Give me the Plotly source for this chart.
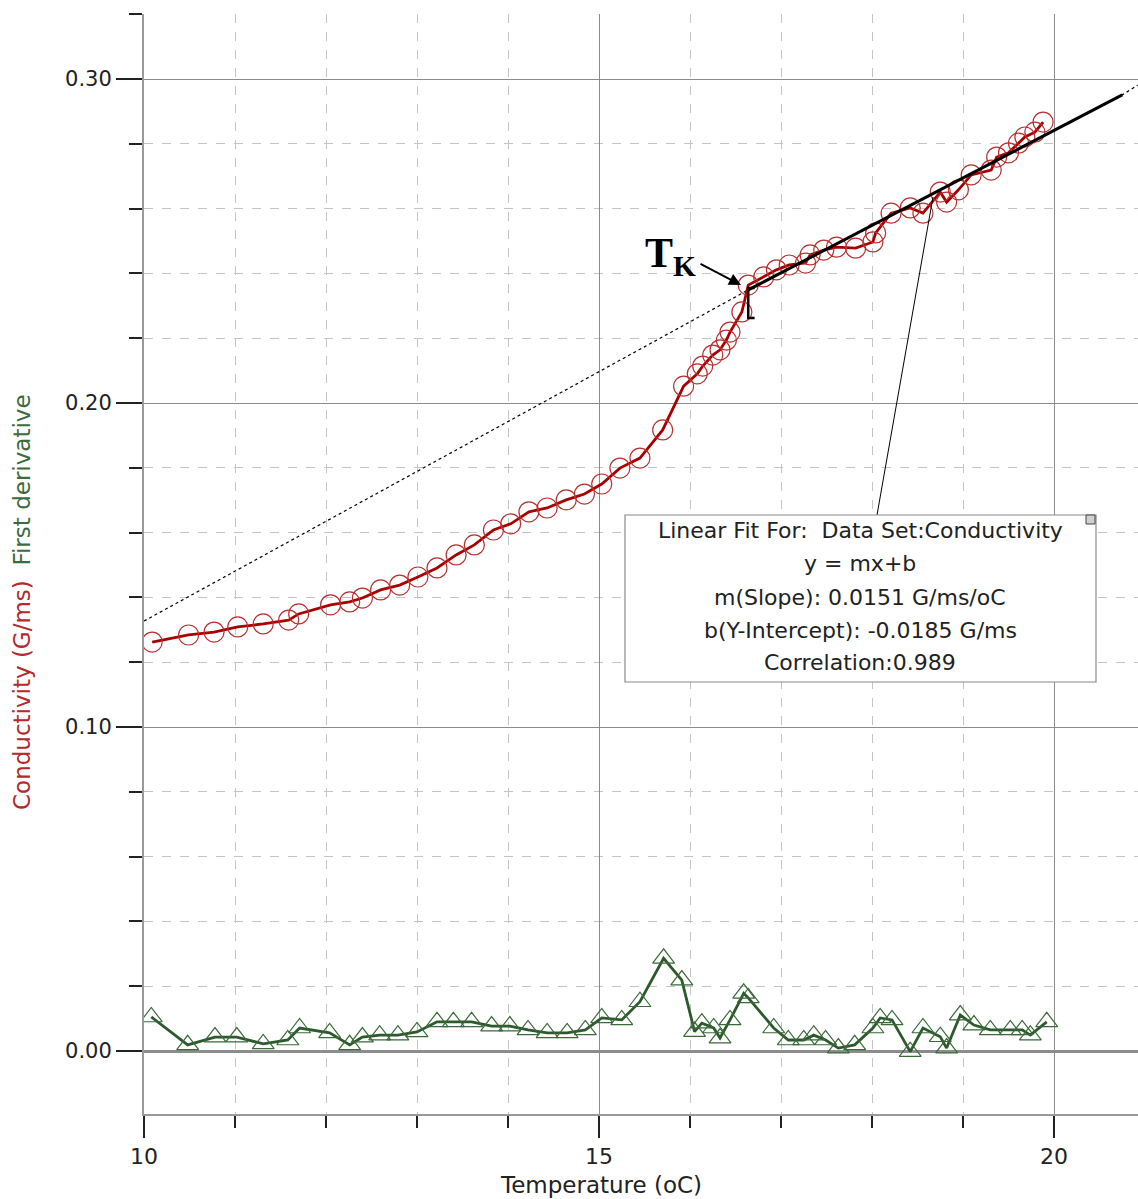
import plotly.graph_objects as go

# ---------------- data ----------------
cond_x = [10.09, 10.49, 10.77, 11.03, 11.31, 11.59, 11.70, 12.05, 12.26, 12.40, 12.60, 12.81,
          13.01, 13.22, 13.43, 13.63, 13.84, 14.03, 14.23, 14.43, 14.64, 14.84, 15.03, 15.23,
          15.45, 15.70, 15.93, 16.08, 16.14, 16.25, 16.33, 16.40, 16.44, 16.57, 16.64, 16.81,
          16.95, 17.09, 17.27, 17.32, 17.47, 17.61, 17.82, 18.01, 18.04, 18.21, 18.42, 18.56,
          18.75, 18.82, 18.95, 19.09, 19.31, 19.37, 19.50, 19.61, 19.68, 19.79, 19.88]
cond_y = [0.1262, 0.1284, 0.1293, 0.1309, 0.1318, 0.1330, 0.1349, 0.1377, 0.1386, 0.1398, 0.1423, 0.1438,
          0.1463, 0.1491, 0.1531, 0.1562, 0.1608, 0.1627, 0.1664, 0.1676, 0.1701, 0.1719, 0.1750, 0.1799,
          0.1830, 0.1917, 0.2052, 0.2090, 0.2114, 0.2148, 0.2164, 0.2194, 0.2219, 0.2281, 0.2364, 0.2389,
          0.2411, 0.2426, 0.2432, 0.2457, 0.2472, 0.2481, 0.2478, 0.2497, 0.2525, 0.2586, 0.2602, 0.2586,
          0.2651, 0.2620, 0.2658, 0.2704, 0.2719, 0.2759, 0.2772, 0.2802, 0.2821, 0.2836, 0.2867]

deriv_x = [10.08, 10.48, 10.78, 11.02, 11.31, 11.58, 11.71, 12.04, 12.26, 12.40, 12.59, 12.79,
           13.00, 13.22, 13.40, 13.60, 13.82, 14.02, 14.22, 14.43, 14.65, 14.85, 15.03, 15.25,
           15.45, 15.71, 15.91, 16.05, 16.13, 16.26, 16.33, 16.44, 16.59, 16.64, 16.92, 17.08,
           17.25, 17.36, 17.49, 17.63, 17.81, 18.01, 18.09, 18.22, 18.42, 18.56, 18.75, 18.82,
           18.97, 19.12, 19.30, 19.52, 19.65, 19.74, 19.92]
deriv_y = [0.0105, 0.0019, 0.0043, 0.0043, 0.0022, 0.0034, 0.0071, 0.0056, 0.0019, 0.0043, 0.0049, 0.0049,
           0.0059, 0.0090, 0.0090, 0.0090, 0.0077, 0.0077, 0.0065, 0.0056, 0.0056, 0.0065, 0.0102, 0.0096,
           0.0152, 0.0286, 0.0219, 0.0060, 0.0086, 0.0071, 0.0040, 0.0096, 0.0178, 0.0164, 0.0071, 0.0034,
           0.0034, 0.0049, 0.0034, 0.0009, 0.0019, 0.0071, 0.0102, 0.0096, -0.0002, 0.0071, 0.0044, 0.0009,
           0.0111, 0.0080, 0.0065, 0.0065, 0.0065, 0.0049, 0.0090]

# linear fit (as drawn): dotted extension and solid fitted range
fit_dot_x = [10.0, 16.64, 20.75, 20.92]
fit_dot_y = [0.1327, 0.2349, 0.2951, 0.2981]
fit_x = [16.64, 20.75]
fit_y = [0.2349, 0.2951]
bracket_x = [16.71, 16.64, 16.64, 16.71]
bracket_y = [0.2355, 0.2355, 0.2262, 0.2262]

fit_lines = ["Linear Fit For:  Data Set:Conductivity",
             "y = mx+b",
             "m(Slope): 0.0151 G/ms/oC",
             "b(Y-Intercept): -0.0185 G/ms",
             "Correlation:0.989"]

x_ticks = [10, 15, 20]

# --------------- layout helpers ---------------
X0, PXX = 144, 91.0
Y0, PXY = 1051, 3240.0
def px_x(p):
    return 10 + (p - X0) / PXX
def px_y(p):
    return (Y0 - p) / PXY

RED = "#a80000"
RED_M = "#b83030"
GREEN = "#2d5a2d"
GREEN_M = "#3a6a3a"
FONT = "DejaVu Sans, Arial, sans-serif"

fig = go.Figure()

fig.add_trace(go.Scatter(x=fit_dot_x, y=fit_dot_y, mode="lines",
                         line=dict(color="black", width=1.2, dash="dot"),
                         hoverinfo="skip", showlegend=False))
fig.add_trace(go.Scatter(x=cond_x, y=cond_y, mode="lines+markers",
                         line=dict(color=RED, width=2.8),
                         marker=dict(symbol="circle-open", size=20, color=RED_M,
                                     line=dict(width=1.2, color=RED_M)),
                         showlegend=False))
fig.add_trace(go.Scatter(x=deriv_x, y=deriv_y, mode="lines+markers",
                         line=dict(color=GREEN, width=2.8),
                         marker=dict(symbol="triangle-up-open", size=19, color=GREEN_M,
                                     line=dict(width=1.2, color=GREEN_M)),
                         showlegend=False))
fig.add_trace(go.Scatter(x=fit_x, y=fit_y, mode="lines",
                         line=dict(color="black", width=3),
                         hoverinfo="skip", showlegend=False))
fig.add_trace(go.Scatter(x=bracket_x, y=bracket_y, mode="lines",
                         line=dict(color="black", width=2.5),
                         hoverinfo="skip", showlegend=False))

# leader line from box to fit line
fig.add_shape(type="line", x0=px_x(877), y0=px_y(515), x1=px_x(933), y1=px_y(197),
              line=dict(color="black", width=1), layer="above")
# fit box
fig.add_shape(type="rect", x0=px_x(625), x1=px_x(1096), y0=px_y(682), y1=px_y(515),
              line=dict(color="#8a8a8a", width=1.2), fillcolor="white", layer="above")
fig.add_shape(type="rect", x0=px_x(1086), x1=px_x(1095), y0=px_y(524), y1=px_y(515),
              line=dict(color="#444", width=1), fillcolor="#d0d0d0", layer="above")

line_px = [530, 563, 597, 630, 662]
for t, py in zip(fit_lines, line_px):
    fig.add_annotation(x=px_x(860), y=px_y(py), text=t, showarrow=False,
                       xanchor="center", yanchor="middle",
                       font=dict(family=FONT, size=22, color="#222"))

# T_K label and arrow
fig.add_annotation(x=px_x(643), y=px_y(256), text="<b>T<sub>K</sub></b>", showarrow=False,
                   xanchor="left", yanchor="middle",
                   font=dict(family="Liberation Serif, Times New Roman, serif", size=42, color="black"))
fig.add_annotation(x=px_x(741), y=px_y(285), ax=-42, ay=-22, text="", showarrow=True,
                   arrowhead=2, arrowsize=1.2, arrowwidth=2, arrowcolor="black")

# axis titles
fig.add_annotation(xref="paper", yref="paper", x=(22 - 144) / 994.0, y=(1114 - 602) / 1100.0,
                   text=('<span style="color:#b22a2a">Conductivity (G/ms)</span>&nbsp;&nbsp;'
                         '<span style="color:#3d6b3d">First derivative</span>'),
                   textangle=-90, showarrow=False, xanchor="center", yanchor="middle",
                   font=dict(family=FONT, size=23))
fig.add_annotation(xref="paper", yref="paper", x=(601 - 144) / 994.0, y=-(1185 - 1114) / 1100.0,
                   text="Temperature (oC)", showarrow=False, xanchor="center", yanchor="middle",
                   font=dict(family=FONT, size=23, color="#222"))

fig.update_xaxes(range=[10, px_x(1138)], tickvals=x_ticks, ticktext=[str(v) for v in x_ticks],
                 ticks="outside", ticklen=22, tickwidth=2, tickcolor="#222",
                 showgrid=True, gridcolor="#8c8c8c", gridwidth=1,
                 showline=True, linecolor="#9a9a9a", linewidth=2, zeroline=False,
                 tickfont=dict(family=FONT, size=22, color="#222"),
                 minor=dict(dtick=1, tick0=10, ticks="outside", ticklen=12, tickwidth=2,
                            tickcolor="#222", showgrid=True, gridcolor="#c4c4c4",
                            griddash="dash", gridwidth=1))
fig.update_yaxes(range=[px_y(1114), px_y(14)], tick0=0, dtick=0.1, tickformat=".2f",
                 ticks="outside", ticklen=26, tickwidth=2, tickcolor="#222",
                 showgrid=True, gridcolor="#8c8c8c", gridwidth=1,
                 showline=True, linecolor="#9a9a9a", linewidth=2,
                 zeroline=True, zerolinecolor="#8c8c8c", zerolinewidth=2.5,
                 tickfont=dict(family=FONT, size=21, color="#222"),
                 minor=dict(dtick=0.02, tick0=0, ticks="outside", ticklen=13, tickwidth=2,
                            tickcolor="#222", showgrid=True, gridcolor="#c4c4c4",
                            griddash="dash", gridwidth=1))

fig.update_layout(width=1138, height=1199, margin=dict(l=144, r=0, t=14, b=85),
                  paper_bgcolor="white", plot_bgcolor="white", showlegend=False)

fig.write_html("out.html")
